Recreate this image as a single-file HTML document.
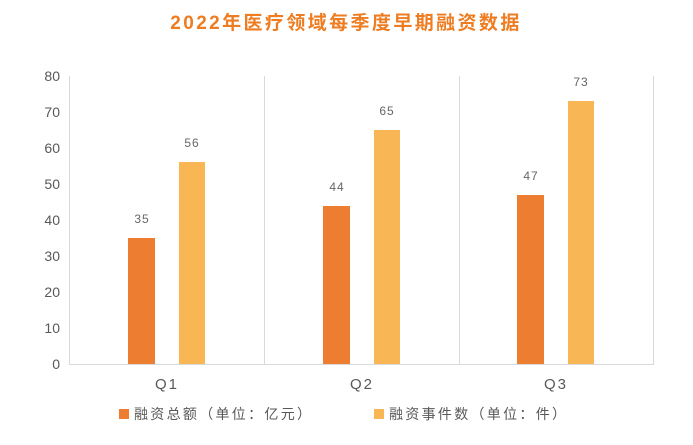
<!DOCTYPE html>
<html><head><meta charset="utf-8"><style>
body{margin:0;background:#fff;}
</style></head><body>
<svg width="693" height="440" xmlns="http://www.w3.org/2000/svg" style="font-family:'Liberation Sans','Noto Sans CJK SC',sans-serif">
<text x="346" y="29" text-anchor="middle" font-size="19" font-weight="bold" fill="#EE7D22" letter-spacing="2.4">2022年医疗领域每季度早期融资数据</text>
<g stroke="#d9d9d9" stroke-width="1">
<line x1="69.5" y1="76" x2="69.5" y2="364"/>
<line x1="264.5" y1="76" x2="264.5" y2="364"/>
<line x1="459.5" y1="76" x2="459.5" y2="364"/>
<line x1="653.5" y1="76" x2="653.5" y2="364"/>
<line x1="69" y1="364.5" x2="654" y2="364.5"/>
</g>
<g font-size="14" fill="#595959" text-anchor="end">
<text x="60" y="369">0</text><text x="60" y="333">10</text><text x="60" y="297">20</text><text x="60" y="261">30</text>
<text x="60" y="225">40</text><text x="60" y="189">50</text><text x="60" y="153">60</text><text x="60" y="117">70</text><text x="60" y="81">80</text>
</g>
<g fill="#ED7D31">
<rect x="128" y="238" width="27" height="126"/>
<rect x="323" y="206" width="27" height="158"/>
<rect x="517" y="195" width="27" height="169"/>
</g>
<g fill="#F8B655">
<rect x="179" y="162" width="26" height="202"/>
<rect x="374" y="130" width="26" height="234"/>
<rect x="568" y="101" width="26" height="263"/>
</g>
<g font-size="12" fill="#666" text-anchor="middle" letter-spacing="1">
<text x="142" y="223">35</text><text x="192" y="147">56</text>
<text x="337" y="191">44</text><text x="387" y="115">65</text>
<text x="531" y="180">47</text><text x="581" y="86">73</text>
</g>
<g font-size="15" fill="#595959" text-anchor="middle" letter-spacing="2">
<text x="167" y="389">Q1</text><text x="362" y="389">Q2</text><text x="556" y="389">Q3</text>
</g>
<rect x="119" y="409" width="10" height="10" fill="#ED7D31"/>
<text x="134" y="419" font-size="14" fill="#595959" letter-spacing="2.3">融资总额（单位：亿元）</text>
<rect x="374" y="409" width="10" height="10" fill="#F8B655"/>
<text x="389" y="419" font-size="14" fill="#595959" letter-spacing="2.3">融资事件数（单位：件）</text>
</svg>
</body></html>
